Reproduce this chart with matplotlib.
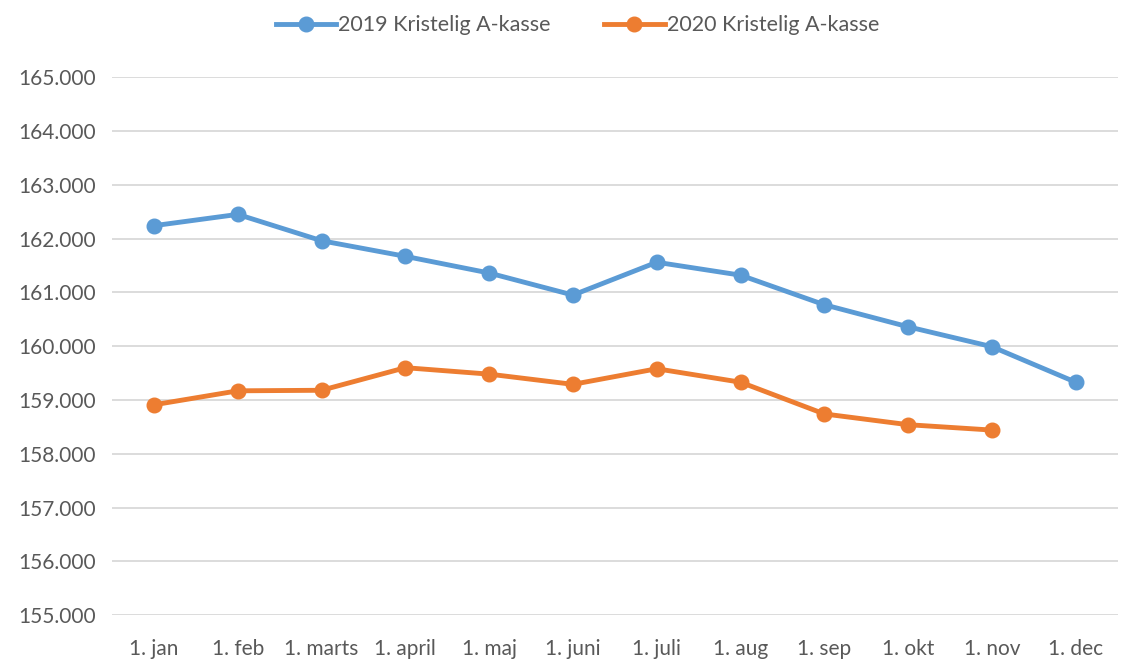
import matplotlib
matplotlib.use("Agg")
import matplotlib.pyplot as plt
from matplotlib.ticker import FuncFormatter, MultipleLocator

months = ["1. jan", "1. feb", "1. marts", "1. april", "1. maj", "1. juni",
          "1. juli", "1. aug", "1. sep", "1. okt", "1. nov", "1. dec"]
y2019 = [162240, 162450, 161960, 161670, 161360, 160950,
         161560, 161320, 160770, 160360, 159990, 159330]
y2020 = [158910, 159170, 159180, 159600, 159480, 159290,
         159580, 159330, 158740, 158540, 158440]

plt.rcParams['font.family'] = ['Lato', 'DejaVu Sans']
txt = "#595959"

fig = plt.figure(figsize=(11.21, 6.6), dpi=100)
ax = fig.add_axes([0.1, 0.068, 0.897, 0.815])

x = list(range(len(months)))
ax.plot(x, y2019, color="#5b9bd5", lw=3.5, marker="o", ms=10.5, label="2019 Kristelig A-kasse")
ax.plot(x[:len(y2020)], y2020, color="#ed7d31", lw=3.5, marker="o", ms=10.5, label="2020 Kristelig A-kasse")

ax.set_ylim(155000, 165000)
ax.set_xlim(-0.5, len(months) - 0.5)
ax.yaxis.set_major_locator(MultipleLocator(1000))
ax.yaxis.set_major_formatter(FuncFormatter(lambda v, p: f"{int(v):,}".replace(",", ".")))
ax.set_xticks(x)
ax.set_xticklabels(months)
ax.grid(axis="y", color="#d9d9d9", lw=1.3)
ax.set_axisbelow(True)
for s in ax.spines.values():
    s.set_visible(False)
ax.tick_params(length=0, labelsize=15, labelcolor=txt, pad=12)
ax.tick_params(axis="x", pad=17)

fig.legend(loc="center", bbox_to_anchor=(0.515, 0.962), ncol=2, frameon=False,
           fontsize=15.5, labelcolor=txt, handlelength=2.8, handletextpad=0.1, columnspacing=2.5)

fig.savefig("out.png", dpi=100)
